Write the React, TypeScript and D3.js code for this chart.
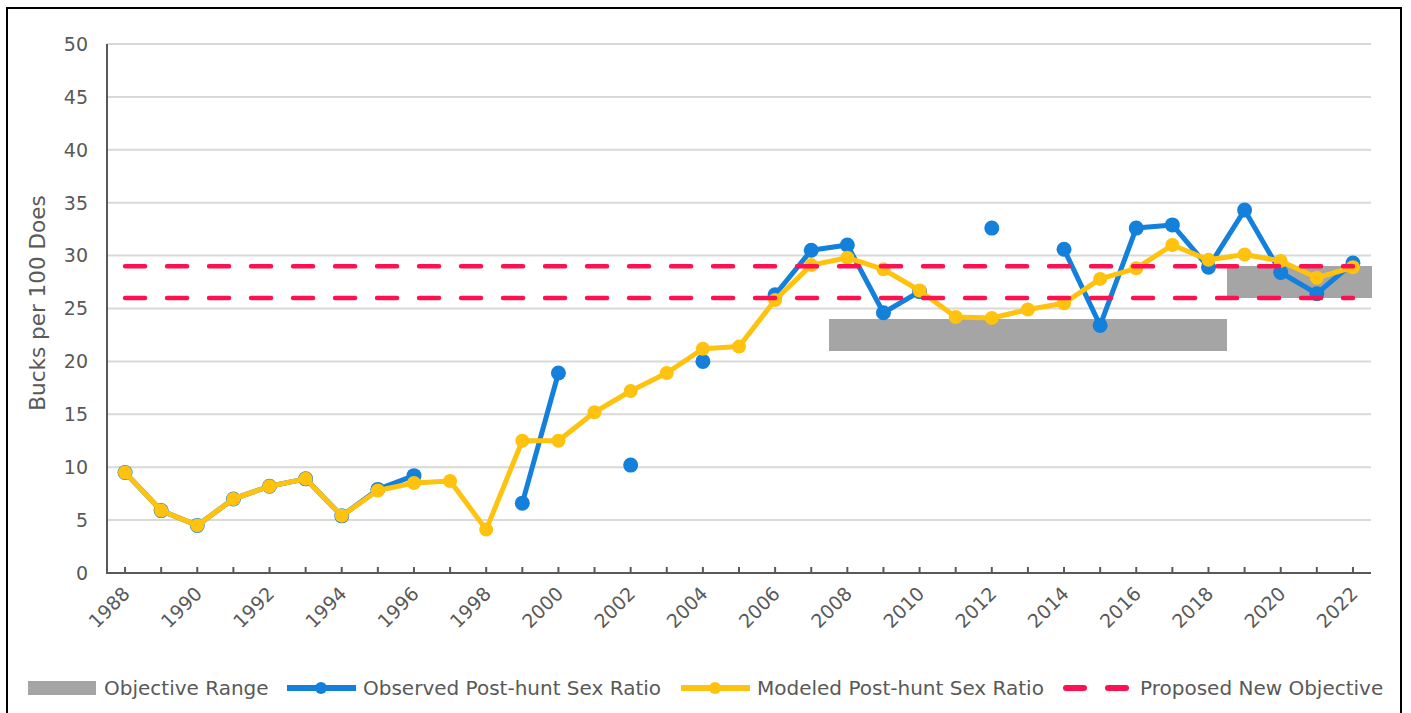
import React from "react";
import * as d3 from "d3";

const years: number[] = [];
for (let y = 1988; y <= 2022; y++) years.push(y);

const observed: (number | null)[] = [
  9.5, 5.9, 4.5, 7.0, 8.2, 8.9, 5.4, 7.9, 9.2, null,
  null, 6.6, 18.9, null, 10.2, null, 20.0, null, 26.3, 30.5,
  31.0, 24.6, 26.6, null, 32.6, null, 30.6, 23.4, 32.6, 32.9,
  28.9, 34.3, 28.4, 26.4, 29.3,
];

const modeled: number[] = [
  9.5, 5.9, 4.5, 7.0, 8.2, 8.9, 5.4, 7.8, 8.5, 8.7,
  4.1, 12.5, 12.5, 15.2, 17.2, 18.9, 21.2, 21.4, 25.8, 29.1,
  29.8, 28.7, 26.7, 24.2, 24.1, 24.9, 25.5, 27.8, 28.8, 31.0,
  29.6, 30.1, 29.5, 27.9, 28.9,
];

const objLow: (number | null)[] = years.map((y) => (y >= 2008 && y <= 2018 ? 21 : y >= 2019 ? 26 : null));
const objHigh: (number | null)[] = years.map((y) => (y >= 2008 && y <= 2018 ? 24 : y >= 2019 ? 29 : null));

const proposedLow: number[] = years.map(() => 26);
const proposedHigh: number[] = years.map(() => 29);

const yTicks = [0, 5, 10, 15, 20, 25, 30, 35, 40, 45, 50];
const legendLabels = [
  "Objective Range",
  "Observed Post-hunt Sex Ratio",
  "Modeled Post-hunt Sex Ratio",
  "Proposed New Objective",
];

const BLUE = "#1380DB";
const YELLOW = "#FFC20E";
const RED = "#FF1050";
const GRAY = "#A5A5A5";
const TXT = "#595959";
const FONT = "'DejaVu Sans', sans-serif";

export default function App() {
  const W = 1411, H = 713;
  const left = 107, right = 1371, top = 44, bottom = 573;
  const x = d3.scaleBand<number>().domain(years).range([left, right]).padding(0);
  const bw = x.bandwidth();
  const cx = (yr: number) => (x(yr) as number) + bw / 2;
  const y = d3.scaleLinear().domain([0, 50]).range([bottom, top]);

  const lineGen = d3
    .line<[number, number | null]>()
    .defined((d) => d[1] != null)
    .x((d) => cx(d[0]))
    .y((d) => y(d[1] as number));

  const obsPairs: [number, number | null][] = years.map((yr, i) => [yr, observed[i]]);
  const modPairs: [number, number | null][] = years.map((yr, i) => [yr, modeled[i]]);
  const lowPairs: [number, number | null][] = years.map((yr, i) => [yr, proposedLow[i]]);
  const highPairs: [number, number | null][] = years.map((yr, i) => [yr, proposedHigh[i]]);

  return (
    <svg width={W} height={H} style={{ position: "absolute", left: 0, top: 0, background: "#fff" }}>
      <rect x={0} y={0} width={W} height={H} fill="#fff" />
      {/* frame */}
      <rect x={7} y={8} width={1394} height={720} fill="none" stroke="#000" strokeWidth={2} />
      {/* gridlines */}
      {yTicks.filter((t) => t > 0).map((t) => (
        <line key={t} x1={left} x2={right} y1={y(t)} y2={y(t)} stroke="#D9D9D9" strokeWidth={2} />
      ))}
      {/* objective range */}
      {years.map((yr, i) =>
        objLow[i] != null ? (
          <rect
            key={yr}
            x={x(yr) as number}
            width={bw + 0.6}
            y={y(objHigh[i] as number)}
            height={y(objLow[i] as number) - y(objHigh[i] as number)}
            fill={GRAY}
            shapeRendering="crispEdges"
          />
        ) : null
      )}
      {/* axes */}
      <line x1={left} x2={left} y1={top} y2={bottom} stroke={TXT} strokeWidth={2} />
      <line x1={left - 1} x2={right} y1={bottom} y2={bottom} stroke={TXT} strokeWidth={2} />
      {years.map((yr) => (
        <line key={yr} x1={cx(yr)} x2={cx(yr)} y1={bottom} y2={bottom - 6} stroke={TXT} strokeWidth={2} />
      ))}
      {yTicks.map((t) => (
        <text key={t} x={88} y={y(t)} dy="0.36em" textAnchor="end" fontFamily={FONT} fontSize={19} fill={TXT}>
          {t}
        </text>
      ))}
      {years.filter((yr) => yr % 2 === 0).map((yr) => (
        <text
          key={yr}
          transform={`translate(${cx(yr) + 6},${bottom + 22}) rotate(-45)`}
          textAnchor="end"
          fontFamily={FONT}
          fontSize={19}
          fill={TXT}
        >
          {yr}
        </text>
      ))}
      <text
        transform={`translate(45,${303}) rotate(-90)`}
        textAnchor="middle"
        fontFamily={FONT}
        fontSize={21.5}
        fill={TXT}
      >
        Bucks per 100 Does
      </text>
      {/* observed */}
      <path d={lineGen(obsPairs) || ""} fill="none" stroke={BLUE} strokeWidth={5} strokeLinejoin="round" />
      {obsPairs.filter((d) => d[1] != null).map((d) => (
        <circle key={d[0]} cx={cx(d[0])} cy={y(d[1] as number)} r={7.5} fill={BLUE} />
      ))}
      {/* modeled */}
      <path d={lineGen(modPairs) || ""} fill="none" stroke={YELLOW} strokeWidth={5} strokeLinejoin="round" />
      {modPairs.map((d) => (
        <circle key={d[0]} cx={cx(d[0])} cy={y(d[1] as number)} r={7} fill={YELLOW} />
      ))}
      {/* proposed */}
      {[lowPairs, highPairs].map((p, k) => (
        <path
          key={k}
          d={lineGen(p) || ""}
          fill="none"
          stroke={RED}
          strokeWidth={4.5}
          strokeDasharray="20 22"
          strokeLinecap="round"
        />
      ))}
      {/* legend */}
      <g fontFamily={FONT} fontSize={20} fill={TXT}>
        <rect x={28} y={681} width={68} height={14} fill={GRAY} />
        <text x={104} y={688} dy="0.35em">{legendLabels[0]}</text>
        <line x1={287} x2={356} y1={688} y2={688} stroke={BLUE} strokeWidth={6} />
        <circle cx={321} cy={688} r={6} fill={BLUE} />
        <text x={363} y={688} dy="0.35em">{legendLabels[1]}</text>
        <line x1={681} x2={750} y1={688} y2={688} stroke={YELLOW} strokeWidth={6} />
        <circle cx={715} cy={688} r={6} fill={YELLOW} />
        <text x={757} y={688} dy="0.35em">{legendLabels[2]}</text>
        <line x1={1066} x2={1126} y1={688} y2={688} stroke={RED} strokeWidth={6} strokeDasharray="18 24" strokeLinecap="round" />
        <text x={1140} y={688} dy="0.35em">{legendLabels[3]}</text>
      </g>
    </svg>
  );
}
